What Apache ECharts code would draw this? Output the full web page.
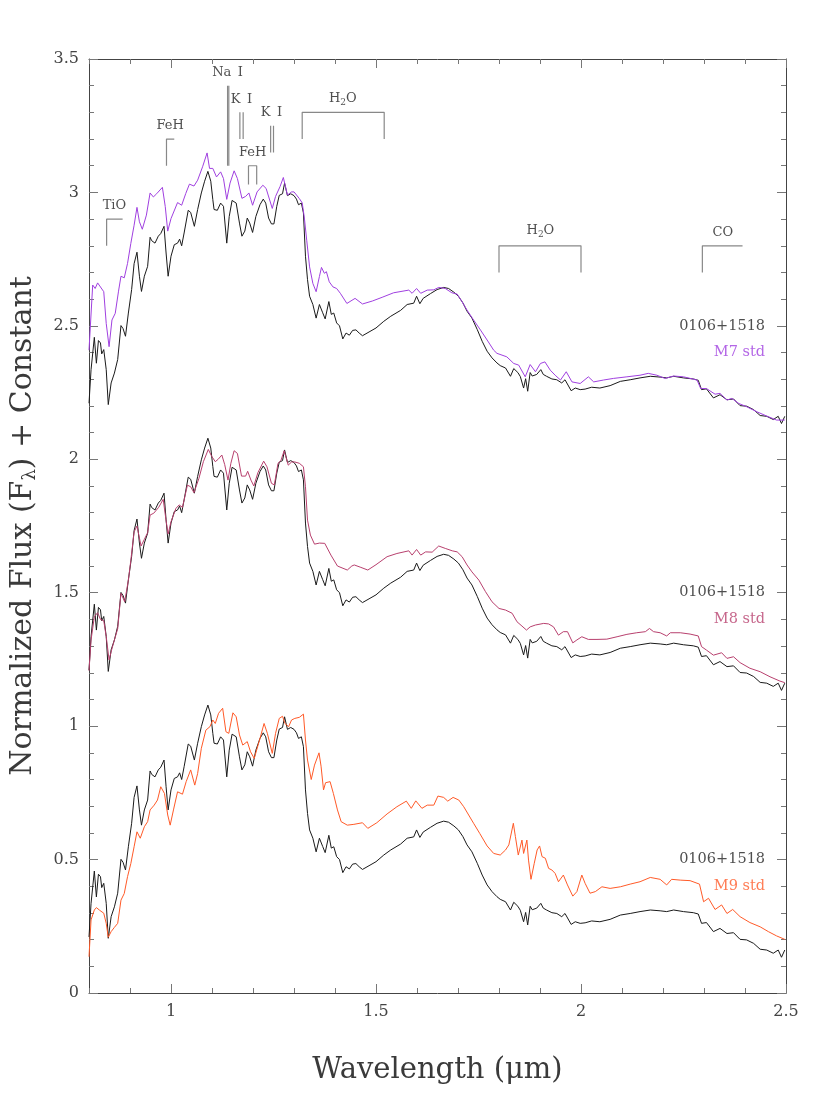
<!DOCTYPE html>
<html>
<head>
<meta charset="utf-8">
<script src="https://cdn.jsdelivr.net/npm/echarts@6/dist/echarts.min.js"></script>
<style>
  html, body { margin: 0; padding: 0; background: #fff; }
  #chart { width: 830px; height: 1106px; }
</style>
</head>
<body>
<div id="chart"></div>
<script>
// tick values
const wavelengthTicks = [1, 1.5, 2, 2.5]
const fluxTicks = [0, 0.5, 1, 1.5, 2, 2.5, 3, 3.5]

// 0106+1518 spectrum, [wavelength (um), normalized flux]; plotted three times with a constant added
const targetSpec = [
  [0.800,0.21],[0.805,0.336],[0.813,0.457],[0.818,0.36],[0.823,0.445],[0.828,0.436],[0.831,0.395],[0.836,0.411],
  [0.842,0.336],[0.847,0.205],[0.854,0.286],[0.862,0.323],[0.870,0.374],[0.878,0.501],[0.883,0.49],[0.889,0.461],
  [0.896,0.548],[0.904,0.636],[0.910,0.733],[0.917,0.776],[0.923,0.686],[0.928,0.629],[0.935,0.686],[0.943,0.723],
  [0.949,0.832],[0.953,0.819],[0.961,0.81],[0.969,0.836],[0.975,0.846],[0.983,0.873],[0.988,0.773],[0.993,0.686],
  [1.000,0.761],[1.008,0.804],[1.016,0.81],[1.021,0.825],[1.026,0.80],[1.032,0.848],[1.042,0.933],[1.048,0.925],
  [1.057,0.873],[1.065,0.936],[1.074,0.998],[1.082,1.042],[1.090,1.079],[1.097,1.042],[1.102,0.973],[1.105,0.936],
  [1.113,0.933],[1.121,0.96],[1.128,0.948],[1.136,0.81],[1.142,0.91],[1.149,0.97],[1.159,0.96],[1.167,0.885],
  [1.173,0.836],[1.180,0.855],[1.186,0.904],[1.192,0.885],[1.199,0.85],[1.207,0.91],[1.217,0.954],[1.225,0.975],
  [1.231,0.96],[1.238,0.904],[1.245,0.882],[1.251,0.882],[1.258,0.948],[1.264,0.989],[1.272,0.995],[1.277,1.035],
  [1.284,0.988],[1.292,0.995],[1.300,0.988],[1.306,0.975],[1.311,0.954],[1.318,0.96],[1.323,0.923],[1.328,0.761],
  [1.333,0.673],[1.338,0.611],[1.346,0.58],[1.354,0.529],[1.362,0.58],[1.370,0.549],[1.376,0.526],[1.385,0.591],
  [1.391,0.543],[1.397,0.548],[1.404,0.511],[1.411,0.50],[1.419,0.451],[1.427,0.473],[1.435,0.465],[1.443,0.483],
  [1.451,0.485],[1.459,0.473],[1.467,0.463],[1.483,0.477],[1.500,0.492],[1.519,0.517],[1.536,0.536],[1.560,0.558],
  [1.576,0.58],[1.592,0.585],[1.599,0.611],[1.607,0.583],[1.615,0.603],[1.633,0.621],[1.649,0.636],[1.665,0.644],
  [1.677,0.64],[1.690,0.626],[1.701,0.611],[1.712,0.586],[1.722,0.555],[1.734,0.529],[1.747,0.486],[1.759,0.442],
  [1.771,0.405],[1.783,0.38],[1.795,0.361],[1.803,0.351],[1.816,0.342],[1.828,0.311],[1.836,0.34],[1.846,0.325],
  [1.852,0.31],[1.860,0.267],[1.865,0.302],[1.870,0.255],[1.876,0.325],[1.881,0.312],[1.892,0.318],[1.902,0.336],
  [1.908,0.318],[1.916,0.311],[1.929,0.301],[1.941,0.298],[1.953,0.286],[1.961,0.298],[1.976,0.257],[1.986,0.267],
  [1.998,0.261],[2.010,0.263],[2.026,0.27],[2.046,0.267],[2.071,0.276],[2.096,0.292],[2.120,0.298],[2.144,0.305],
  [2.169,0.311],[2.193,0.308],[2.209,0.305],[2.226,0.311],[2.250,0.305],[2.274,0.301],[2.286,0.296],[2.294,0.261],
  [2.306,0.264],[2.323,0.23],[2.339,0.242],[2.356,0.223],[2.372,0.226],[2.388,0.201],[2.404,0.199],[2.421,0.186],
  [2.437,0.164],[2.453,0.161],[2.469,0.149],[2.481,0.161],[2.489,0.134],[2.497,0.161]
]

// standards, already shifted by their constant
const m9Std = [
  [0.800,0.136],[0.805,0.274],[0.813,0.311],[0.818,0.32],[0.826,0.31],[0.836,0.299],[0.842,0.261],[0.847,0.209],
  [0.854,0.23],[0.862,0.246],[0.870,0.261],[0.878,0.348],[0.886,0.373],[0.894,0.436],[0.902,0.485],[0.910,0.548],
  [0.917,0.604],[0.925,0.58],[0.935,0.623],[0.943,0.642],[0.949,0.686],[0.959,0.704],[0.967,0.723],[0.975,0.773],
  [0.984,0.748],[0.992,0.667],[0.998,0.629],[1.006,0.686],[1.016,0.754],[1.028,0.745],[1.037,0.792],[1.048,0.836],
  [1.058,0.779],[1.065,0.823],[1.074,0.917],[1.085,0.985],[1.095,0.998],[1.102,1.023],[1.108,1.01],[1.116,1.048],
  [1.126,1.067],[1.134,0.979],[1.141,0.973],[1.151,1.05],[1.159,1.035],[1.167,0.967],[1.175,0.929],[1.186,0.942],
  [1.194,0.904],[1.203,0.879],[1.216,0.948],[1.227,1.01],[1.235,0.973],[1.247,0.898],[1.255,0.973],[1.264,1.029],
  [1.272,1.037],[1.278,1.01],[1.287,0.998],[1.294,1.023],[1.302,1.029],[1.313,1.033],[1.323,1.045],[1.328,0.948],
  [1.333,0.873],[1.342,0.80],[1.350,0.854],[1.361,0.90],[1.366,0.85],[1.372,0.761],[1.377,0.788],[1.388,0.792],
  [1.396,0.748],[1.406,0.686],[1.415,0.642],[1.430,0.629],[1.446,0.632],[1.467,0.638],[1.480,0.617],[1.502,0.638],
  [1.527,0.671],[1.551,0.698],[1.574,0.719],[1.586,0.692],[1.597,0.72],[1.612,0.692],[1.625,0.704],[1.641,0.704],
  [1.651,0.738],[1.665,0.733],[1.675,0.719],[1.688,0.733],[1.702,0.723],[1.714,0.698],[1.726,0.667],[1.738,0.636],
  [1.753,0.598],[1.771,0.551],[1.787,0.523],[1.803,0.517],[1.816,0.536],[1.824,0.555],[1.835,0.636],[1.840,0.586],
  [1.847,0.517],[1.856,0.573],[1.860,0.523],[1.868,0.573],[1.872,0.498],[1.878,0.426],[1.886,0.486],[1.893,0.536],
  [1.899,0.551],[1.905,0.511],[1.913,0.505],[1.921,0.467],[1.929,0.461],[1.937,0.448],[1.945,0.417],[1.957,0.442],
  [1.967,0.405],[1.980,0.363],[1.990,0.38],[2.002,0.442],[2.010,0.411],[2.022,0.374],[2.035,0.38],[2.051,0.398],
  [2.071,0.392],[2.096,0.398],[2.120,0.408],[2.144,0.417],[2.169,0.433],[2.193,0.426],[2.209,0.405],[2.221,0.426],
  [2.242,0.423],[2.266,0.421],[2.289,0.408],[2.299,0.342],[2.311,0.355],[2.327,0.313],[2.343,0.33],[2.356,0.298],
  [2.370,0.313],[2.388,0.286],[2.412,0.264],[2.437,0.248],[2.457,0.23],[2.477,0.214],[2.497,0.201]
]

const m8Std = [
  [0.800,1.208],[0.805,1.323],[0.813,1.41],[0.821,1.425],[0.828,1.40],[0.836,1.395],[0.842,1.335],[0.849,1.248],
  [0.855,1.285],[0.862,1.323],[0.870,1.365],[0.878,1.498],[0.887,1.466],[0.896,1.547],[0.902,1.621],[0.910,1.728],
  [0.917,1.75],[0.927,1.675],[0.935,1.70],[0.943,1.725],[0.949,1.791],[0.958,1.798],[0.970,1.82],[0.981,1.85],
  [0.988,1.77],[0.993,1.72],[1.000,1.766],[1.012,1.816],[1.020,1.829],[1.028,1.82],[1.040,1.903],[1.048,1.897],
  [1.056,1.875],[1.068,1.928],[1.079,1.991],[1.091,2.037],[1.099,2.012],[1.108,1.991],[1.115,2.0],[1.124,2.016],
  [1.131,1.98],[1.139,1.922],[1.146,1.985],[1.154,2.032],[1.162,2.022],[1.172,1.937],[1.182,1.937],[1.187,1.955],
  [1.195,1.922],[1.202,1.90],[1.212,1.95],[1.226,1.993],[1.234,1.972],[1.245,1.91],[1.252,1.904],[1.261,1.985],
  [1.268,1.995],[1.276,2.032],[1.286,1.978],[1.294,1.99],[1.302,1.99],[1.313,1.985],[1.323,1.972],[1.328,1.897],
  [1.333,1.772],[1.340,1.716],[1.350,1.682],[1.362,1.686],[1.375,1.685],[1.390,1.641],[1.406,1.60],[1.430,1.585],
  [1.441,1.60],[1.447,1.604],[1.463,1.595],[1.480,1.585],[1.500,1.605],[1.527,1.635],[1.551,1.647],[1.580,1.657],
  [1.588,1.641],[1.599,1.662],[1.609,1.641],[1.621,1.653],[1.637,1.652],[1.653,1.675],[1.669,1.666],[1.686,1.657],
  [1.698,1.653],[1.710,1.635],[1.722,1.604],[1.734,1.578],[1.751,1.547],[1.767,1.504],[1.783,1.466],[1.800,1.441],
  [1.816,1.435],[1.832,1.423],[1.844,1.391],[1.856,1.375],[1.867,1.36],[1.876,1.372],[1.889,1.379],[1.909,1.385],
  [1.921,1.383],[1.933,1.372],[1.945,1.341],[1.957,1.354],[1.967,1.354],[1.980,1.312],[1.990,1.323],[2.002,1.335],
  [2.018,1.325],[2.039,1.325],[2.063,1.326],[2.088,1.335],[2.112,1.344],[2.136,1.35],[2.157,1.354],[2.167,1.366],
  [2.177,1.354],[2.193,1.35],[2.209,1.338],[2.218,1.35],[2.242,1.35],[2.266,1.345],[2.286,1.338],[2.294,1.298],
  [2.306,1.285],[2.323,1.266],[2.343,1.275],[2.356,1.254],[2.372,1.26],[2.388,1.238],[2.412,1.217],[2.437,1.204],
  [2.461,1.185],[2.485,1.169],[2.497,1.163]
]

const m7Std = [
  [0.800,2.409],[0.809,2.653],[0.815,2.64],[0.821,2.661],[0.836,2.628],[0.842,2.509],[0.849,2.422],[0.856,2.522],
  [0.864,2.547],[0.872,2.63],[0.878,2.686],[0.886,2.68],[0.894,2.734],[0.902,2.809],[0.910,2.877],[0.917,2.944],
  [0.923,2.89],[0.930,2.862],[0.940,2.915],[0.949,2.998],[0.957,2.983],[0.965,2.995],[0.979,3.019],[0.986,2.947],
  [0.992,2.855],[1.000,2.902],[1.016,2.962],[1.026,2.952],[1.036,2.996],[1.045,3.031],[1.056,3.024],[1.065,3.046],
  [1.077,3.096],[1.088,3.148],[1.094,3.09],[1.102,3.09],[1.111,3.058],[1.121,3.077],[1.128,3.052],[1.136,2.974],
  [1.144,3.035],[1.154,3.081],[1.162,3.052],[1.173,2.978],[1.182,2.985],[1.190,2.998],[1.199,2.952],[1.210,3.002],
  [1.224,3.027],[1.232,3.015],[1.247,2.94],[1.255,2.985],[1.266,3.022],[1.274,3.056],[1.284,2.99],[1.294,3.002],
  [1.300,3.002],[1.313,2.977],[1.320,2.961],[1.325,2.908],[1.331,2.821],[1.338,2.721],[1.346,2.659],[1.354,2.628],
  [1.362,2.685],[1.367,2.719],[1.374,2.697],[1.379,2.703],[1.386,2.665],[1.395,2.646],[1.404,2.64],[1.413,2.622],
  [1.429,2.584],[1.449,2.603],[1.467,2.582],[1.491,2.593],[1.515,2.607],[1.543,2.624],[1.580,2.634],[1.588,2.622],
  [1.599,2.64],[1.609,2.622],[1.625,2.634],[1.641,2.635],[1.653,2.644],[1.669,2.64],[1.685,2.624],[1.698,2.619],
  [1.710,2.59],[1.722,2.559],[1.738,2.522],[1.755,2.484],[1.771,2.447],[1.787,2.409],[1.795,2.397],[1.819,2.384],
  [1.836,2.359],[1.848,2.353],[1.864,2.309],[1.876,2.355],[1.889,2.328],[1.901,2.359],[1.912,2.365],[1.925,2.334],
  [1.937,2.315],[1.950,2.297],[1.964,2.328],[1.978,2.29],[1.998,2.284],[2.018,2.309],[2.031,2.29],[2.055,2.297],
  [2.079,2.303],[2.112,2.309],[2.144,2.315],[2.164,2.322],[2.185,2.315],[2.205,2.303],[2.226,2.312],[2.250,2.309],
  [2.283,2.297],[2.292,2.265],[2.306,2.265],[2.327,2.244],[2.339,2.247],[2.356,2.222],[2.368,2.228],[2.385,2.209],
  [2.404,2.197],[2.429,2.178],[2.453,2.162],[2.477,2.147],[2.497,2.147]
]

// offsets ("+ Constant") and names for the three panels, bottom to top
const offsets = [0, 1, 2]
const targetName = '0106+1518'
const stdNames = ['M9 std', 'M8 std', 'M7 std']
const stdSpectra = [m9Std, m8Std, m7Std]

// feature marks (wavelength, flux)
const featureNames = ['TiO', 'FeH', 'Na\u2002I', 'K\u2002I', 'FeH', 'K\u2002I', 'H{s|2}O', 'H{s|2}O', 'CO']
const featureLabelAt = [
  [0.862, 2.95], [0.998, 3.25], [1.138, 3.448], [1.172, 3.348], [1.199, 3.15],
  [1.245, 3.30], [1.419, 3.352], [1.901, 2.855], [2.346, 2.85]
]
const featureBrackets = [
  [[0.843, 2.80], [0.843, 2.90], [0.882, 2.90]],
  [[0.989, 3.10], [0.989, 3.20], [1.008, 3.20]],
  [[1.138, 3.10], [1.138, 3.40]],
  [[1.141, 3.10], [1.141, 3.40]],
  [[1.168, 3.20], [1.168, 3.30]],
  [[1.176, 3.20], [1.176, 3.30]],
  [[1.189, 3.03], [1.189, 3.10], [1.209, 3.10], [1.209, 3.03]],
  [[1.243, 3.15], [1.243, 3.25]],
  [[1.250, 3.15], [1.250, 3.25]],
  [[1.32, 3.20], [1.32, 3.30], [1.52, 3.30], [1.52, 3.20]],
  [[1.80, 2.70], [1.80, 2.80], [2.00, 2.80], [2.00, 2.70]],
  [[2.296, 2.70], [2.296, 2.80], [2.394, 2.80]]
]
// where the right-hand names sit: x, and flux above each offset
const nameX = 2.449
const targetNameY = 0.5
const stdNameY = 0.4

// styles
const FONT = 'DejaVu Serif'
const stdColors = ['#ff5a28', '#b8406e', '#a040e0']
const targetColor = '#1a1a1a'
const frameColor = '#444'
const tickColor = '#777'
const markColor = '#888'

const chart = echarts.init(document.getElementById('chart'), null, { renderer: 'canvas' })

const axisBase = (min, max) => ({
  type: 'value', min: min, max: max, splitLine: { show: false }
})

function minorAxis (min, max, pos) {
  return Object.assign(axisBase(min, max), {
    position: pos,
    interval: 0.1,
    axisLine: { show: true, onZero: false, lineStyle: { color: frameColor, width: 1 } },
    axisTick: { show: true, inside: true, length: 5, lineStyle: { color: tickColor } },
    axisLabel: { show: false }
  })
}

function majorAxis (min, max, pos, ticks, labels) {
  return Object.assign(axisBase(min, max), {
    position: pos,
    axisLine: { show: false, onZero: false },
    axisTick: { show: true, inside: true, length: 9, customValues: ticks, lineStyle: { color: tickColor } },
    axisLabel: labels
      ? { show: true, customValues: ticks, fontFamily: FONT, fontSize: 16, color: '#444', margin: 11 }
      : { show: false }
  })
}

const xBottom = majorAxis(0.8, 2.5, 'bottom', wavelengthTicks, true)
xBottom.name = 'Wavelength (\u03bcm)'
xBottom.nameLocation = 'middle'
xBottom.nameGap = 63
xBottom.nameTextStyle = { fontFamily: FONT, fontSize: 29, color: '#3a3a3a' }

const yLeft = majorAxis(0, 3.5, 'left', fluxTicks, true)
yLeft.axisLabel.margin = 10
yLeft.name = 'Normalized Flux (F{s|\u03bb}) + Constant'
yLeft.nameLocation = 'middle'
yLeft.nameGap = 50
yLeft.nameTextStyle = {
  fontFamily: FONT, fontSize: 30, color: '#3a3a3a',
  rich: { s: { fontFamily: FONT, fontSize: 18, color: '#3a3a3a', padding: [14, 0, 0, 0] } }
}

const series = []

// target spectrum, one copy per offset
offsets.forEach((off, i) => {
  series.push({
    type: 'line', name: targetName + ' ' + i, showSymbol: false, silent: true,
    lineStyle: { color: targetColor, width: 1 },
    data: targetSpec.map(p => [p[0], p[1] + off]),
    z: 2
  })
})

// standards
stdSpectra.forEach((spec, i) => {
  series.push({
    type: 'line', name: stdNames[i], showSymbol: false, silent: true,
    lineStyle: { color: stdColors[i], width: 1 },
    data: spec,
    z: 3
  })
})

// feature brackets
featureBrackets.forEach(path => {
  series.push({
    type: 'line', showSymbol: false, silent: true,
    lineStyle: { color: markColor, width: 1.2 },
    data: path,
    z: 1
  })
})

// feature labels
series.push({
  type: 'scatter', symbolSize: 0, silent: true,
  data: featureNames.map((n, i) => ({ name: n, value: featureLabelAt[i] })),
  label: {
    show: true, position: [0, 0], align: 'center', verticalAlign: 'middle',
    formatter: p => p.name,
    fontFamily: FONT, fontSize: 13, color: '#222',
    rich: { s: { fontFamily: FONT, fontSize: 9, color: '#222', padding: [8, 0, 0, 0] } }
  }
})

// right-hand names
offsets.forEach((off, i) => {
  series.push({
    type: 'scatter', symbolSize: 0, silent: true,
    data: [
      { name: targetName, value: [nameX, targetNameY + off], label: { color: '#222' } },
      { name: stdNames[i], value: [nameX, stdNameY + off], label: { color: stdColors[i] } }
    ],
    label: {
      show: true, position: [0, 0], align: 'right', verticalAlign: 'middle',
      formatter: p => p.name, fontFamily: FONT, fontSize: 14.5
    }
  })
})

chart.setOption({
  animation: false,
  backgroundColor: '#fff',
  grid: { left: 88, right: 44, top: 59, bottom: 113, containLabel: false },
  xAxis: [
    minorAxis(0.8, 2.5, 'bottom'),
    xBottom,
    minorAxis(0.8, 2.5, 'top'),
    majorAxis(0.8, 2.5, 'top', wavelengthTicks, false)
  ],
  yAxis: [
    minorAxis(0, 3.5, 'left'),
    yLeft,
    minorAxis(0, 3.5, 'right'),
    majorAxis(0, 3.5, 'right', fluxTicks, false)
  ],
  series: series
})
</script>
</body>
</html>
